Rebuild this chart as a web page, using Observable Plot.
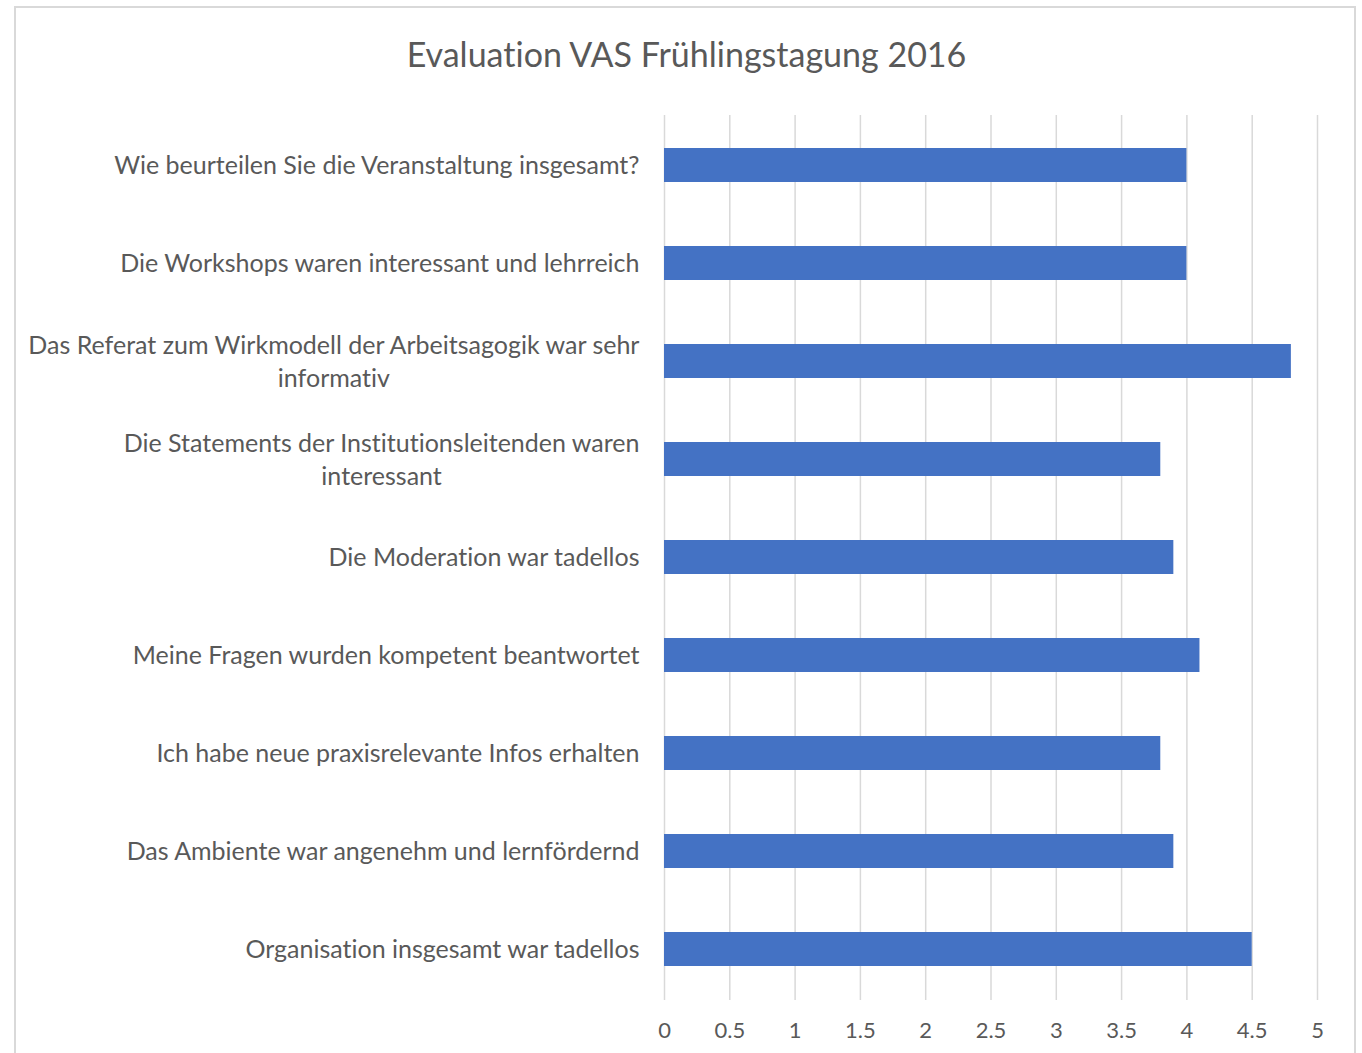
<!DOCTYPE html>
<html>
<head>
<meta charset="utf-8">
<script src="https://cdn.jsdelivr.net/npm/d3@7"></script>
<script src="https://cdn.jsdelivr.net/npm/@observablehq/plot@0.6"></script>
<style>
  html, body { margin: 0; padding: 0; background: #fff; }
  #wrap { position: relative; width: 1362px; height: 1053px; overflow: hidden; font-family: Lato, "Open Sans", sans-serif; font-variant-ligatures: none; }
  #wrap svg text { font-variant-ligatures: none; }
  #border { position: absolute; left: 14px; top: 6px; width: 1342px; height: 1100px; border: 2px solid #d9d9d9; box-sizing: border-box; }
  #title { position: absolute; left: 0; width: 1373px; top: 33px; text-align: center; font-size: 34px; color: #595959; }
  #chart { position: absolute; left: 0; top: 0; }
</style>
</head>
<body>
<div id="wrap">
  <div id="border"></div>
  <div id="chart"></div>
  <div id="title">Evaluation VAS Frühlingstagung 2016</div>
</div>
<script>
const categories = [
  "Wie beurteilen Sie die Veranstaltung insgesamt?",
  "Die Workshops waren interessant und lehrreich",
  "Das Referat zum Wirkmodell der Arbeitsagogik war sehr informativ",
  "Die Statements der Institutionsleitenden waren interessant",
  "Die Moderation war tadellos",
  "Meine Fragen wurden kompetent beantwortet",
  "Ich habe neue praxisrelevante Infos erhalten",
  "Das Ambiente war angenehm und lernfördernd",
  "Organisation insgesamt war tadellos"
];
const values = [4.0, 4.0, 4.8, 3.8, 3.9, 4.1, 3.8, 3.9, 4.5];
const labelLines = {
  "Das Referat zum Wirkmodell der Arbeitsagogik war sehr informativ": "Das Referat zum Wirkmodell der Arbeitsagogik war sehr\ninformativ",
  "Die Statements der Institutionsleitenden waren interessant": "Die Statements der Institutionsleitenden waren\ninteressant"
};
const xTicks = [0, 0.5, 1, 1.5, 2, 2.5, 3, 3.5, 4, 4.5, 5];

const data = categories.map((c, i) => ({category: c, value: values[i]}));

const chart = Plot.plot({
  width: 1362,
  height: 1053,
  marginTop: 115,
  marginBottom: 53,
  marginLeft: 664,
  marginRight: 45,
  style: {fontFamily: "Lato, 'Open Sans', sans-serif", color: "#595959", background: "transparent"},
  x: {domain: [0, 5]},
  y: {domain: categories, paddingInner: 0.65, paddingOuter: 0.325},
  marks: [
    Plot.gridX(xTicks, {stroke: "#d9d9d9", strokeOpacity: 1, strokeWidth: 1.5}),
    Plot.barX(data, {x: "value", y: "category", fill: "#4472C4"}),
    Plot.axisX({ticks: xTicks, tickSize: 0, tickPadding: 22, fontSize: 22, fill: "#595959", label: null,
      tickFormat: d => String(d)}),
    Plot.axisY({tickSize: 0, tickPadding: 25, fontSize: 25, fill: "#595959", label: null, lineHeight: 1.32,
      dy: -2, tickFormat: d => labelLines[d] ?? d})
  ]
});
document.getElementById("chart").appendChild(chart);

// center multi-line labels within their block (as in the reference)
chart.querySelectorAll("g[aria-label='y-axis tick label'] text").forEach(t => {
  const spans = t.querySelectorAll("tspan");
  if (spans.length > 1) {
    const w = t.getBBox().width;
    t.setAttribute("text-anchor", "middle");
    const tr = t.getAttribute("transform") || "";
    t.setAttribute("transform", tr + ` translate(${-w / 2},0)`);
  }
});
</script>
</body>
</html>
